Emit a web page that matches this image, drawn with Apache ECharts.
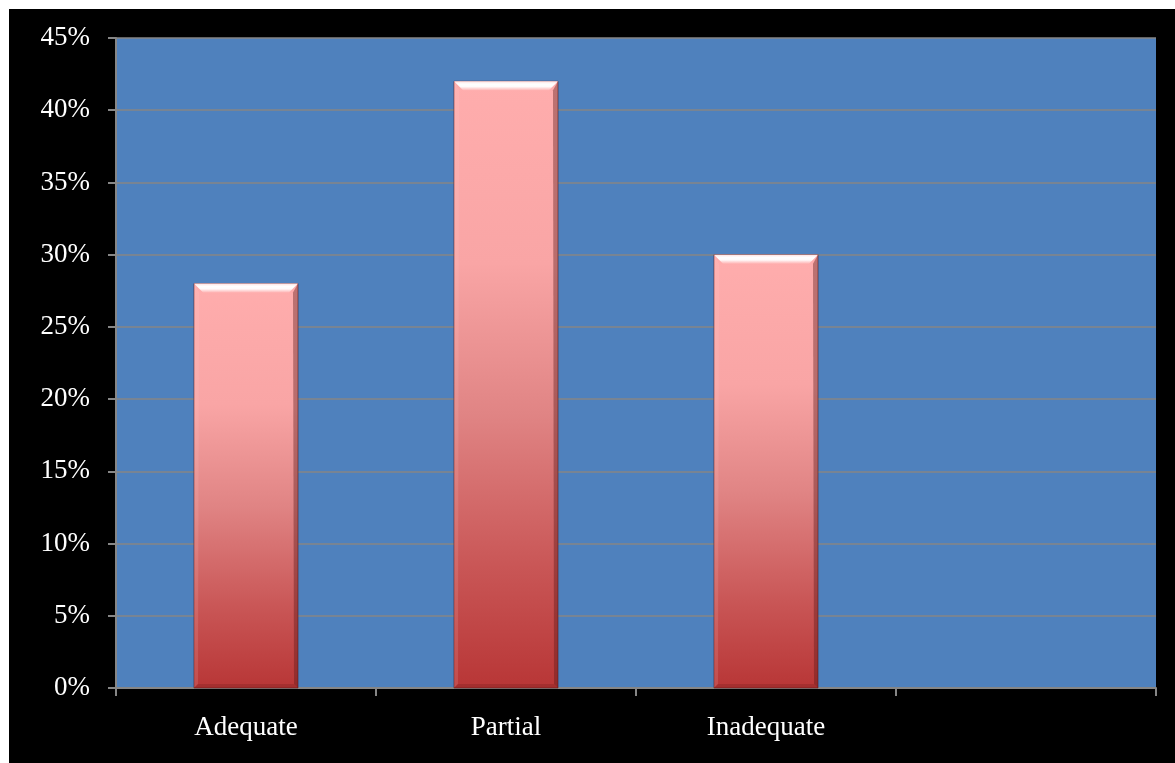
<!DOCTYPE html>
<html>
<head>
<meta charset="utf-8">
<style>
  html, body { margin: 0; padding: 0; background: #ffffff; width: 1175px; height: 763px; overflow: hidden; }
  #chart { position: absolute; left: 9px; top: 9px; width: 1166px; height: 754px; background: #000000; }
</style>
<script src="https://cdn.jsdelivr.net/npm/echarts@6/dist/echarts.min.js"></script>
</head>
<body>
<div id="chart"></div>
<script>
// Categories along the x axis (the last slot is intentionally empty)
const categories = ['Adequate', 'Partial', 'Inadequate', ''];
// Share of responses per category
const shares = [0.28, 0.42, 0.30, null];
// Y axis range and step
const yMin = 0;
const yMax = 0.45;
const yStep = 0.05;

const chart = echarts.init(document.getElementById('chart'));

const bodyFill = new echarts.graphic.LinearGradient(0, 0, 0, 1, [
  { offset: 0, color: '#FFADAD' },
  { offset: 0.3, color: '#F9A5A5' },
  { offset: 0.55, color: '#E08484' },
  { offset: 0.8, color: '#C95656' },
  { offset: 1, color: '#B83636' }
]);

// Beveled bar: body + light top facet + darker side facets
function renderBevelBar(params, api) {
  const v = api.value(1);
  if (v == null || isNaN(v)) return null;
  const top = api.coord([api.value(0), v]);
  const base = api.coord([api.value(0), 0]);
  const band = api.size([1, 0])[0];
  const w = band * 0.4;
  const x0 = top[0] - w / 2;
  const x1 = top[0] + w / 2;
  const y0 = top[1];
  const y1 = base[1];
  const b = 9;
  return {
    type: 'group',
    children: [
      { type: 'rect', shape: { x: x0, y: y0, width: w, height: y1 - y0 },
        style: { fill: bodyFill, stroke: 'rgba(90,20,20,0.55)', lineWidth: 1 } },
      // top facet
      { type: 'polygon', shape: { points: [[x0, y0], [x1, y0], [x1 - b, y0 + b], [x0 + b, y0 + b]] },
        style: { fill: new echarts.graphic.LinearGradient(0, 0, 0, 1, [
          { offset: 0, color: 'rgba(255,225,225,1)' },
          { offset: 0.3, color: 'rgba(255,255,255,1)' },
          { offset: 0.6, color: 'rgba(255,250,250,1)' },
          { offset: 1, color: 'rgba(255,185,185,0.8)' }
        ]) } },
      // right facet
      { type: 'polygon', shape: { points: [[x1, y0], [x1, y1], [x1 - 4, y1 - 4], [x1 - 5, y0 + b]] },
        style: { fill: 'rgba(90,25,25,0.4)' } },
      // left facet
      { type: 'polygon', shape: { points: [[x0, y0], [x0 + 5, y0 + b], [x0 + 4, y1 - 4], [x0, y1]] },
        style: { fill: 'rgba(255,210,210,0.15)' } },
      // bottom facet
      { type: 'polygon', shape: { points: [[x0, y1], [x0 + 4, y1 - 4], [x1 - 4, y1 - 4], [x1, y1]] },
        style: { fill: 'rgba(120,30,30,0.3)' } }
    ]
  };
}

const font = '"Liberation Serif", "DejaVu Serif", serif';

chart.setOption({
  backgroundColor: '#000000',
  animation: false,
  grid: {
    left: 107, top: 29, right: 19, bottom: 75,
    show: true, backgroundColor: '#4F81BD', borderWidth: 0
  },
  xAxis: {
    type: 'category',
    data: categories,
    boundaryGap: true,
    axisLine: { show: true, lineStyle: { color: '#868686', width: 2 } },
    axisTick: { show: true, length: 8, inside: false, alignWithLabel: false, lineStyle: { color: '#868686', width: 2 } },
    axisLabel: { color: '#ffffff', fontFamily: font, fontSize: 27, margin: 26, interval: 0 },
    splitLine: { show: false }
  },
  yAxis: {
    type: 'value',
    min: yMin, max: yMax, interval: yStep,
    axisLine: { show: true, lineStyle: { color: '#868686', width: 2 } },
    axisTick: { show: true, length: 8, lineStyle: { color: '#868686', width: 2 } },
    axisLabel: {
      color: '#ffffff', fontFamily: font, fontSize: 27, margin: 26,
      formatter: v => Math.round(v * 100) + '%'
    },
    splitLine: { show: true, lineStyle: { color: '#868686', width: 1.5 } }
  },
  series: [{
    type: 'custom',
    renderItem: renderBevelBar,
    encode: { x: 0, y: 1 },
    data: shares.map((s, i) => [i, s]),
    z: 3
  }]
});
</script>
</body>
</html>
